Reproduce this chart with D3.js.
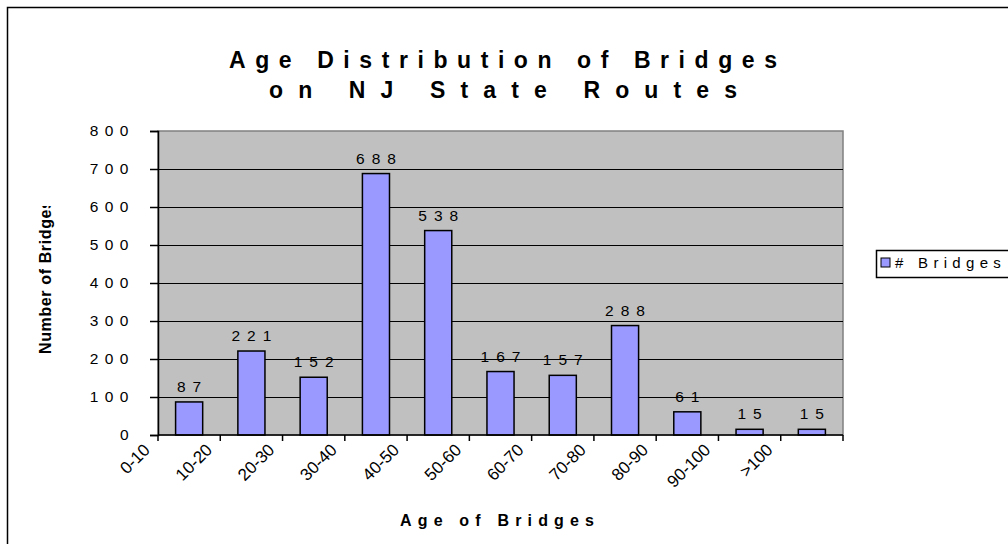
<!DOCTYPE html>
<html>
<head>
<meta charset="utf-8">
<script src="https://cdn.jsdelivr.net/npm/d3@7"></script>
<style>
  body { margin: 0; background: #fff; }
  svg { display: block; font-family: "Liberation Sans", Arial, sans-serif; }
</style>
</head>
<body>
<svg id="chart" width="1008" height="544"></svg>
<script>
// chart data
const categories = ["0-10", "10-20", "20-30", "30-40", "40-50", "50-60", "60-70", "70-80", "80-90", "90-100", ">100"];
const bridgeCounts = [87, 221, 152, 688, 538, 167, 157, 288, 61, 15, 15];
const yTicks = [0, 100, 200, 300, 400, 500, 600, 700, 800];
const titleLines = ["Age Distribution of Bridges", "on NJ State Routes"];
const seriesName = "# Bridges";

const svg = d3.select("#chart");

// outer chart border (runs off the right/bottom)
svg.append("rect")
  .attr("x", 7.5).attr("y", 7.5)
  .attr("width", 1100).attr("height", 600)
  .attr("fill", "#fff").attr("stroke", "#000").attr("stroke-width", 1.5);

const plot = { left: 158, top: 131, right: 843, bottom: 435 };

const x = d3.scaleBand()
  .domain(categories)
  .range([plot.left, plot.right])
  .paddingInner(0.565)
  .paddingOuter(0.2825);

// category edges, where the x ticks sit
const xEdges = d3.scaleLinear()
  .domain([0, categories.length])
  .range([plot.left, plot.right]);

const y = d3.scaleLinear()
  .domain([0, 800])
  .range([plot.bottom, plot.top]);

// plot background
svg.append("rect")
  .attr("x", plot.left).attr("y", plot.top)
  .attr("width", plot.right - plot.left).attr("height", plot.bottom - plot.top)
  .attr("fill", "#c0c0c0").attr("stroke", "#808080").attr("stroke-width", 1.5);

// gridlines
svg.append("g")
  .selectAll("line")
  .data(yTicks.filter(d => d > 0 && d < 800))
  .join("line")
  .attr("x1", plot.left).attr("x2", plot.right)
  .attr("y1", d => Math.round(y(d)) + 0.5).attr("y2", d => Math.round(y(d)) + 0.5)
  .attr("stroke", "#000");

// bars
svg.append("g")
  .selectAll("rect")
  .data(bridgeCounts)
  .join("rect")
  .attr("x", (d, i) => x(categories[i]))
  .attr("y", d => y(d))
  .attr("width", x.bandwidth())
  .attr("height", d => y(0) - y(d))
  .attr("fill", "#9999ff")
  .attr("stroke", "#000")
  .attr("stroke-width", 1.5);

// value labels (letter-spaced, so nudge right by half the spacing)
const valSpacing = 7;
svg.append("g")
  .selectAll("text")
  .data(bridgeCounts)
  .join("text")
  .attr("x", (d, i) => x(categories[i]) + x.bandwidth() / 2 + valSpacing / 2)
  .attr("y", d => y(d) - 10)
  .attr("text-anchor", "middle")
  .attr("font-size", 15.5)
  .attr("letter-spacing", valSpacing)
  .text(d => String(d));

// y axis
const yAxis = svg.append("g")
  .attr("transform", `translate(${plot.left},0)`)
  .call(d3.axisLeft(y).tickValues(yTicks).tickSize(8).tickFormat(d => String(d)));
yAxis.select(".domain").attr("stroke", "#000").attr("stroke-width", 1.5);
yAxis.selectAll(".tick line").attr("stroke", "#000").attr("stroke-width", 1.5);
yAxis.selectAll(".tick text")
  .attr("font-size", 15.5)
  .attr("letter-spacing", 6.5)
  .attr("fill", "#000")
  .attr("x", -23)
  .attr("font-family", "Liberation Sans, Arial, sans-serif");

// x axis: ticks on category edges
const xAxisG = svg.append("g");
xAxisG.append("line")
  .attr("x1", plot.left).attr("x2", plot.right)
  .attr("y1", plot.bottom).attr("y2", plot.bottom)
  .attr("stroke", "#000").attr("stroke-width", 1.5);
xAxisG.selectAll("line.tick")
  .data(d3.range(categories.length + 1))
  .join("line")
  .attr("class", "tick")
  .attr("x1", d => xEdges(d)).attr("x2", d => xEdges(d))
  .attr("y1", plot.bottom).attr("y2", plot.bottom + 6)
  .attr("stroke", "#000").attr("stroke-width", 1.5);

// rotated category labels (end just left of each band's left edge, as in the source)
xAxisG.selectAll("text")
  .data(categories)
  .join("text")
  .attr("transform", (d, i) => `translate(${xEdges(i) - 7},${plot.bottom + 16}) rotate(-45)`)
  .attr("text-anchor", "end")
  .attr("font-size", 17)
  .text(d => d);

// title
svg.append("g")
  .selectAll("text")
  .data(titleLines)
  .join("text")
  .attr("x", 503)
  .attr("y", (d, i) => 68 + i * 30)
  .attr("text-anchor", "middle")
  .attr("font-size", 23)
  .attr("font-weight", "bold")
  .attr("textLength", (d, i) => [548, 468][i])
  .attr("lengthAdjust", "spacing")
  .text(d => d);

// axis titles
svg.append("text")
  .attr("x", 497).attr("y", 526)
  .attr("text-anchor", "middle")
  .attr("font-size", 16)
  .attr("font-weight", "bold")
  .attr("textLength", 194)
  .attr("lengthAdjust", "spacing")
  .text("Age of Bridges");

svg.append("clipPath").attr("id", "yclip")
  .append("rect").attr("x", 20).attr("y", 206).attr("width", 60).attr("height", 200);
svg.append("g")
  .attr("clip-path", "url(#yclip)")
  .append("text")
  .attr("transform", "translate(51,354) rotate(-90)")
  .attr("font-size", 16)
  .attr("font-weight", "bold")
  .attr("textLength", 154)
  .attr("lengthAdjust", "spacing")
  .text("Number of Bridges");

// legend
const legend = svg.append("g");
legend.append("rect")
  .attr("x", 876.5).attr("y", 250.5)
  .attr("width", 200).attr("height", 27)
  .attr("fill", "#fff").attr("stroke", "#000").attr("stroke-width", 1.5);
legend.append("rect")
  .attr("x", 881).attr("y", 258).attr("width", 9).attr("height", 9)
  .attr("fill", "#9999ff").attr("stroke", "#000");
legend.append("text")
  .attr("x", 895).attr("y", 268)
  .attr("font-size", 15)
  .attr("letter-spacing", 5.3)
  .text(seriesName);
</script>
</body>
</html>
